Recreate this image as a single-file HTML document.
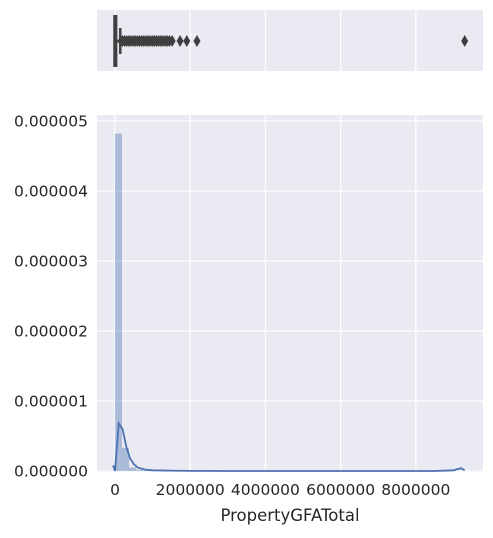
<!DOCTYPE html>
<html><head><meta charset="utf-8"><style>
body{margin:0;background:#fff;font-family:"Liberation Sans","DejaVu Sans",sans-serif}
svg text{font-family:"DejaVu Sans","Liberation Sans",sans-serif;fill:#262626}
</style></head><body>
<svg width="493" height="533" id="c">
<rect x="97" y="10" width="386" height="61" fill="#eaeaf2"/>
<rect x="97" y="115" width="386" height="357" fill="#eaeaf2"/>
<g id="grid"></g><g id="marks"></g><g id="labels"></g>
<text x="290" y="521" font-size="16.5" text-anchor="middle">PropertyGFATotal</text>
</svg>
<script>
const xTicks=[0,2000000,4000000,6000000,8000000];
const yTicks=[0,0.000001,0.000002,0.000003,0.000004,0.000005];
const yTickLabels=["0.000000","0.000001","0.000002","0.000003","0.000004","0.000005"];
const binWidth=186000;
const histValues=[4.82e-6,0.33e-6,0.05e-6,0.02e-6,0.01e-6,0.005e-6,0.003e-6,0.002e-6,0,0.001e-6];
const kdeX=[-50000,0,100000,200000,300000,400000,500000,600000,800000,1000000,1500000,2000000,3000000,8500000,9000000,9200000,9300000];
const kdeY=[0.08e-6,0,0.68e-6,0.6e-6,0.35e-6,0.18e-6,0.1e-6,0.05e-6,0.02e-6,0.01e-6,0.005e-6,0.002e-6,0,0,0.01e-6,0.04e-6,0.01e-6];
const boxStats=[0,20000,60000,130000,140000];
const outliers=[160000,200000,250000,300000,350000,400000,450000,500000,550000,600000,650000,700000,750000,800000,850000,900000,950000,1000000,1050000,1100000,1150000,1200000,1250000,1300000,1350000,1400000,1450000,1520000,1730000,1910000,2180000,9300000];
const sx=v=>115+v*37.6e-6;
const sy=v=>471-v*70e6;
const ns="http://www.w3.org/2000/svg";
function mk(t,a,p){const e=document.createElementNS(ns,t);for(const k in a)e.setAttribute(k,a[k]);document.getElementById(p).appendChild(e);return e;}
xTicks.forEach((t,i)=>{
 let l=mk('line',{x1:sx(t),x2:sx(t),y1:10,y2:71,stroke:'#fff','stroke-width':1.2},'grid');
 
 
 l=mk('line',{x1:sx(t),x2:sx(t),y1:115,y2:472,stroke:'#fff','stroke-width':1.2},'grid');
 
 
 const tx=mk('text',{x:sx(t),y:495,'font-size':15.5,'text-anchor':'middle'},'labels');tx.textContent=t;
 
 
});
yTicks.forEach((t,i)=>{
 let l=mk('line',{x1:97,x2:483,y1:sy(t),y2:sy(t),stroke:'#fff','stroke-width':1.2},'grid');
 
 
 const tx=mk('text',{x:88,y:sy(t)+5.5,'font-size':15.5,'text-anchor':'end'},'labels');tx.textContent=yTickLabels[i];
 
 
});
histValues.forEach((v,i)=>{
 if(v<=0)return;
 const x0=sx(i*binWidth),x1=sx((i+1)*binWidth);
 const r=mk('rect',{x:x0,y:sy(v),width:x1-x0,height:sy(0)-sy(v),fill:'#4c72b0','fill-opacity':0.4},'marks');
 
 
});
const kde=mk('polyline',{points:kdeX.map((x,i)=>sx(x)+','+sy(kdeY[i])).join(' '),fill:'none',stroke:'#4c72b0','stroke-width':1.8},'marks');


const by0=15,by1=67,bm=41;
let w=mk('line',{x1:sx(boxStats[0]),x2:sx(boxStats[4]),y1:bm,y2:bm,stroke:'#3f3f3f','stroke-width':2.5},'marks');


const bx=mk('rect',{x:sx(boxStats[1])-2.5,y:by0,width:Math.max(4,sx(boxStats[3])-sx(boxStats[1])),height:by1-by0,fill:'#3f3f3f'},'marks');


w=mk('line',{x1:sx(boxStats[4]),x2:sx(boxStats[4]),y1:28,y2:54,stroke:'#3f3f3f','stroke-width':2.5},'marks');


outliers.forEach(o=>{
 const x=sx(o);
 const d=mk('polygon',{points:`${x},${bm-6} ${x+3.5},${bm} ${x},${bm+6} ${x-3.5},${bm}`,fill:'#3f3f3f'},'marks');
 
 
});
</script>
</body></html>
